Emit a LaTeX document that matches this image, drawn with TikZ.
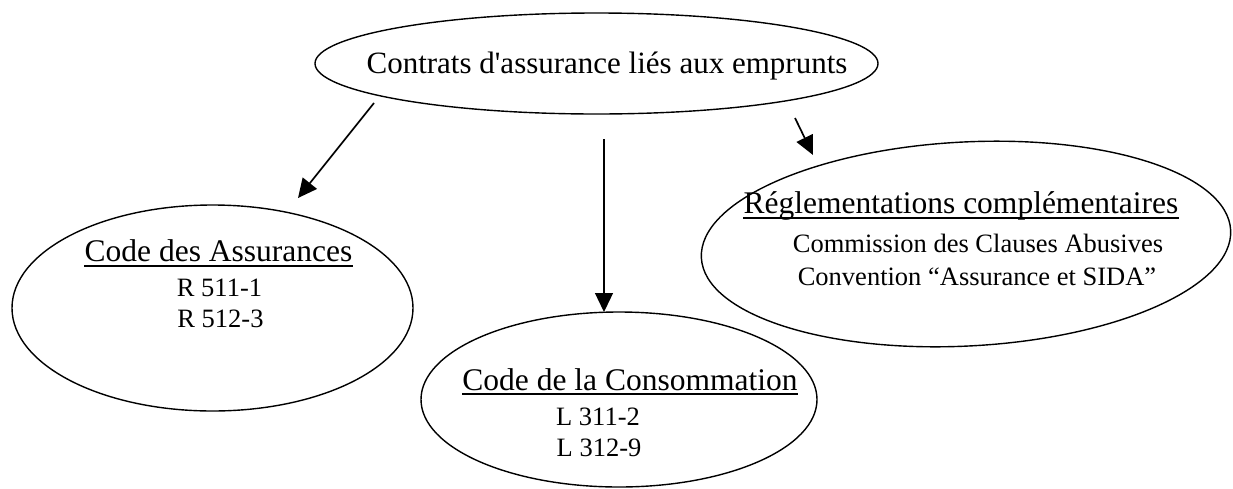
\documentclass[tikz,border=0pt]{standalone}
\usepackage{fontspec}
\setmainfont{Liberation Serif}
\usetikzlibrary{shapes.geometric,arrows.meta}
\begin{document}
\begin{tikzpicture}[x=1pt,y=-1pt,
  oval/.style={ellipse,draw,line width=1.4pt,inner sep=0pt},
  head/.style={anchor=base,inner sep=0pt,font=\fontsize{31.5}{36}\selectfont},
  sub/.style={anchor=base,inner sep=0pt,font=\fontsize{26.5}{30}\selectfont},
  uline/.style={line width=1.2pt},
  arr/.style={-{Triangle[length=19pt,width=18pt]},line width=1.7pt}]
\useasboundingbox[fill=white] (0,0) rectangle (1233,488);

% ellipses
\node[oval,minimum width=563pt,minimum height=101pt] (top) at (596.5,63.5) {};
\node[oval,minimum width=401pt,minimum height=206pt] (assur) at (212.5,308) {};
\node[oval,minimum width=396pt,minimum height=175pt] (conso) at (619,399.5) {};
\node[oval,minimum width=530pt,minimum height=204pt,rotate=3] (regl) at (966,244) {};

% texts
\node[head,font=\fontsize{31}{36}\selectfont] (ttop) at (607,73) {Contrats d\textquotesingle assurance liés aux emprunts};

\node[head] (hA) at (218.5,261) {Code des Assurances};
\node[sub] (a1) at (219.5,296) {R 511-1};
\node[sub] (a2) at (220.5,327) {R 512-3};

\node[head] (hC) at (630,390) {Code de la Consommation};
\node[sub] (c1) at (598,425) {L 311-2};
\node[sub] (c2) at (599,456) {L 312-9};

\node[head] (hR) at (961,213) {Réglementations complémentaires};
\node[sub] (r1) at (978,252) {Commission des Clauses Abusives};
\node[sub] (r2) at (977,285) {Convention “Assurance et SIDA”};

% underlines
\draw[uline] ([yshift=-5pt]hA.base west) -- ([yshift=-5pt]hA.base east);
\draw[uline] ([yshift=-4pt]hC.base west) -- ([yshift=-4pt]hC.base east);
\draw[uline] ([yshift=-5pt]hR.base west) -- ([yshift=-5pt]hR.base east);

% arrows
\coordinate (l1) at (374,103);
\coordinate (l2) at (298,198);
\coordinate (m1) at (604,139);
\coordinate (m2) at (604,312);
\coordinate (r1s) at (795,118);
\coordinate (r2e) at (813,155);
\draw[arr] (l1) -- (l2);
\draw[arr,line width=1.3pt] (m1) -- (m2);
\draw[arr] (r1s) -- (r2e);
\end{tikzpicture}
\end{document}
